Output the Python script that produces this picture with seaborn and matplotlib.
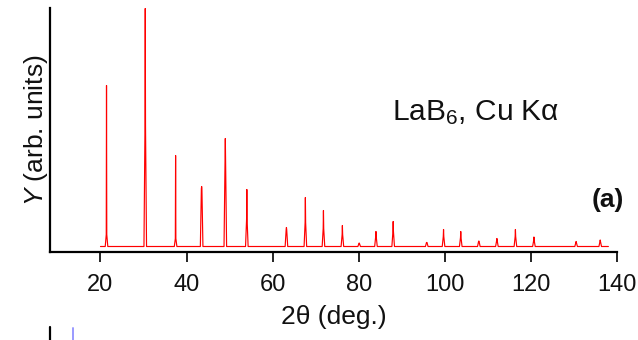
import numpy as np
import pandas as pd
import matplotlib
matplotlib.use("Agg")
import matplotlib.pyplot as plt
from matplotlib.lines import Line2D
import seaborn as sns

# ---- data (intensities in arbitrary units) ----
peak_pos = [21.4, 30.4, 37.45, 43.5, 49.0, 54.0, 63.2, 67.6, 71.8, 76.2, 80.1,
            84.0, 88.0, 95.8, 99.7, 103.7, 107.9, 112.1, 116.4, 120.7, 130.5, 136.1]
peak_top = [161, 238, 91, 60, 108, 57, 19, 49, 36, 21, 3.5,
            15, 25, 4, 17, 15, 5.5, 8, 17, 9.5, 5, 6.5]
peak_body = [12, 121, 8, 58, 87, 27, 17, 24, 18, 12, 3,
             10, 15, 4, 10, 9, 5, 6, 10, 6, 4, 5]
background = 5.5
scan_start, scan_end = 20.0, 138.0
x_ticks = [20, 40, 60, 80, 100, 120, 140]

# ---- build the pattern polyline from the peak table ----
xs, ys = [scan_start], [background]
for p, h, hb in zip(peak_pos, peak_top, peak_body):
    xs += [p - 0.3, p - 0.06, p, p + 0.06, p + 0.3]
    ys += [background, background + hb, background + h, background + hb, background]
xs.append(scan_end)
ys.append(background)
df = pd.DataFrame({"two_theta": xs, "Y": ys})

sns.set_style("ticks")
plt.rcParams["font.family"] = ["Liberation Sans", "DejaVu Sans"]
plt.rcParams["mathtext.fontset"] = "custom"
plt.rcParams["mathtext.rm"] = "Liberation Sans"
plt.rcParams["mathtext.it"] = "Liberation Sans:italic"
plt.rcParams["text.color"] = "#111111"
plt.rcParams["axes.labelcolor"] = "#111111"

W, H = 638, 340
fig = plt.figure(figsize=(W / 100, H / 100), dpi=100)
ax = fig.add_axes([50 / W, 88 / H, 567 / W, 244 / H])

sns.lineplot(data=df, x="two_theta", y="Y", ax=ax, color="#ff0000",
             linewidth=0.85, sort=False, estimator=None)

ax.set_xlim(8.27, 140)
ax.set_ylim(0, 244)
ax.set_xticks(x_ticks)
ax.set_xticklabels([str(t) for t in x_ticks])
ax.set_yticks([])
ax.tick_params(axis="x", direction="out", length=7, width=1.2, pad=9,
               labelsize=17, colors="black", labelcolor="#111111")
for s in ["top", "right"]:
    ax.spines[s].set_visible(False)
for s in ["left", "bottom"]:
    ax.spines[s].set_linewidth(1.6)
    ax.spines[s].set_color("black")

ax.set_xlabel("2θ (deg.)", fontsize=19, labelpad=6)
ax.set_ylabel("$Y$ (arb. units)", fontsize=19, labelpad=0)

fig.text(392 / W, 1 - 113 / H, "LaB$_6$, Cu Kα", fontsize=21.5,
         ha="left", va="center")
fig.text(608 / W, 1 - 200 / H, "(a)", fontsize=19, fontweight="bold",
         ha="center", va="center")

# fragments of the next panel visible at the bottom edge
fig.add_artist(Line2D([50 / W, 50 / W], [0, 13 / H], color="black", linewidth=1.6))
fig.add_artist(Line2D([73 / W, 73 / W], [0, 12 / H], color="#9a9aff", linewidth=1.4))

fig.savefig("out.png", dpi=100)
